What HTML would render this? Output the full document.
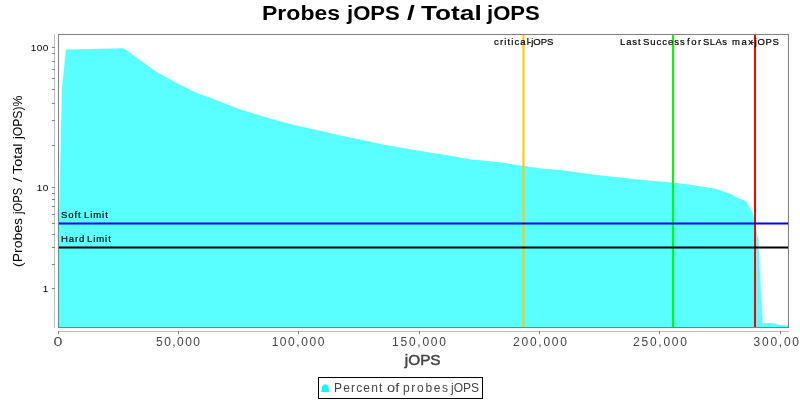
<!DOCTYPE html>
<html><head><meta charset="utf-8"><title>Probes jOPS / Total jOPS</title><style>
html,body{margin:0;padding:0;background:#fff;width:800px;height:400px;overflow:hidden}
svg{display:block;will-change:transform}
text{font-family:"Liberation Sans",sans-serif}
.b9{stroke:#000;stroke-width:0.2px}
</style></head><body>
<svg width="800" height="400" viewBox="0 0 800 400">
<rect x="0" y="0" width="800" height="400" fill="#fff"/>
<text x="262" y="20" font-size="20" font-weight="bold" fill="#000" textLength="78.08" lengthAdjust="spacingAndGlyphs">Probes</text>
<text x="347" y="20" font-size="20" font-weight="bold" fill="#000" textLength="52.89" lengthAdjust="spacingAndGlyphs">jOPS</text>
<text x="407" y="20" font-size="20" font-weight="bold" fill="#000" textLength="7.78" lengthAdjust="spacingAndGlyphs">/</text>
<text x="421" y="20" font-size="20" font-weight="bold" fill="#000" textLength="60.7" lengthAdjust="spacingAndGlyphs">Total</text>
<text x="487" y="20" font-size="20" font-weight="bold" fill="#000" textLength="52.89" lengthAdjust="spacingAndGlyphs">jOPS</text>

<polygon points="58,327.5 58,262 62,88 66,49.5 124,48.2 140,60 156,71.6 175,82 197,93 210,97.5 238.5,108.7 255,114 273,119.2 295.5,125.2 319.4,130.5 347.5,137 362.5,140 382,144.2 409,149 430,152.4 445,154.7 470,159.2 500,162.2 522.5,165.7 542,168.5 560,170 574.5,172 597,175 618,177.2 640.5,179.8 672,182.5 689,184.4 701,186.4 715,188.4 731,194 739,198.6 746,201 753.1,213.5 758.3,240 762.6,323.3 773,323 780,325 788,325.5 788,327.5" fill="#59ffff"/>
<rect x="522.5" y="34" width="2" height="293" fill="#ffc800"/>
<rect x="672" y="34" width="2" height="293" fill="#00ff00"/>
<rect x="754" y="34" width="2" height="293" fill="#ff0000"/>
<rect x="58" y="222.5" width="730" height="2" fill="#0000ff"/>
<rect x="58" y="246.5" width="730" height="2" fill="#000000"/>
<g class="b9"><text x="494" y="45" font-size="9.5" fill="#000" textLength="34.91" lengthAdjust="spacing">critical</text>
<text x="528" y="45" font-size="9.5" fill="#000" textLength="25.34" lengthAdjust="spacing">-jOPS</text>
<text x="620" y="45" font-size="9.5" fill="#000" textLength="20.64" lengthAdjust="spacing">Last</text>
<text x="643" y="45" font-size="9.5" fill="#000" textLength="41.74" lengthAdjust="spacing">Success</text>
<text x="687" y="45" font-size="9.5" fill="#000" textLength="14.09" lengthAdjust="spacing">for</text>
<text x="703" y="45" font-size="9.5" fill="#000" textLength="24.05" lengthAdjust="spacing">SLAs</text>
<text x="732" y="45" font-size="9.5" fill="#000" textLength="20.95" lengthAdjust="spacing">max</text>
<text x="751" y="45" font-size="9.5" fill="#000" textLength="27.84" lengthAdjust="spacing">-jOPS</text>
<text x="61" y="217.6" font-size="9.5" fill="#000" textLength="19.58" lengthAdjust="spacing">Soft</text>
<text x="84" y="217.6" font-size="9.5" fill="#000" textLength="23.81" lengthAdjust="spacing">Limit</text>
<text x="61" y="241.6" font-size="9.5" fill="#000" textLength="23.26" lengthAdjust="spacing">Hard</text>
<text x="87" y="241.6" font-size="9.5" fill="#000" textLength="23.81" lengthAdjust="spacing">Limit</text>
</g>
<g shape-rendering="crispEdges">
<rect x="58.5" y="34.5" width="730" height="293" fill="none" stroke="#808080" stroke-width="1"/>
<rect x="54" y="34" width="1" height="294" fill="#c0c0c0"/>
<rect x="58" y="331" width="731" height="1" fill="#c0c0c0"/>
<g fill="#808080"><rect x="52" y="47" width="3" height="1"/><rect x="52" y="53" width="3" height="1"/><rect x="52" y="61" width="3" height="1"/><rect x="52" y="69" width="3" height="1"/><rect x="52" y="78" width="3" height="1"/><rect x="52" y="89" width="3" height="1"/><rect x="52" y="103" width="3" height="1"/><rect x="52" y="120" width="3" height="1"/><rect x="52" y="145" width="3" height="1"/><rect x="52" y="187" width="3" height="1"/><rect x="52" y="193" width="3" height="1"/><rect x="52" y="199" width="3" height="1"/><rect x="52" y="206" width="3" height="1"/><rect x="52" y="214" width="3" height="1"/><rect x="52" y="223" width="3" height="1"/><rect x="52" y="234" width="3" height="1"/><rect x="52" y="247" width="3" height="1"/><rect x="52" y="264" width="3" height="1"/><rect x="52" y="288" width="3" height="1"/><rect x="58" y="331" width="1" height="3"/><rect x="178" y="331" width="1" height="3"/><rect x="298" y="331" width="1" height="3"/><rect x="419" y="331" width="1" height="3"/><rect x="539" y="331" width="1" height="3"/><rect x="659" y="331" width="1" height="3"/><rect x="780" y="331" width="1" height="3"/></g>
</g>
<g fill="#000" text-anchor="middle" font-size="10">
<g transform="translate(0,50.9) scale(1,0.93)"><text x="33.5" y="0" font-family="Liberation Mono">1</text><text x="39.5" y="0" textLength="5.6" lengthAdjust="spacingAndGlyphs">0</text><text x="45.5" y="0" textLength="5.6" lengthAdjust="spacingAndGlyphs">0</text></g>
<g transform="translate(0,190.9) scale(1,0.93)"><text x="39.5" y="0" font-family="Liberation Mono">1</text><text x="45.5" y="0" textLength="5.6" lengthAdjust="spacingAndGlyphs">0</text></g>
<g transform="translate(0,291.9) scale(1,0.93)"><text x="45.5" y="0" font-family="Liberation Mono">1</text></g>
</g>
<text x="58" y="346" text-anchor="middle" font-size="12" fill="#444" textLength="8.92" lengthAdjust="spacingAndGlyphs">0</text>
<text x="178" y="346" text-anchor="middle" font-size="12" fill="#444" textLength="43.9" lengthAdjust="spacing">50,000</text>
<text x="298" y="346" text-anchor="middle" font-size="12" fill="#444" textLength="52.73" lengthAdjust="spacing">100,000</text>
<text x="419" y="346" text-anchor="middle" font-size="12" fill="#444" textLength="53.89" lengthAdjust="spacing">150,000</text>
<text x="540" y="346" text-anchor="middle" font-size="12" fill="#444" textLength="53.89" lengthAdjust="spacing">200,000</text>
<text x="660" y="346" text-anchor="middle" font-size="12" fill="#444" textLength="53.89" lengthAdjust="spacing">250,000</text>
<text x="780.5" y="346" text-anchor="middle" font-size="12" fill="#444" textLength="53.89" lengthAdjust="spacing">300,000</text>
<g style="stroke:#444;stroke-width:0.45px"><text x="422.7" y="364.75" text-anchor="middle" font-size="14.5" fill="#444" textLength="35.83" lengthAdjust="spacingAndGlyphs">jOPS</text>
</g>
<text transform="translate(21.5,267) rotate(-90)" font-size="12.5" fill="#000" textLength="48.99" lengthAdjust="spacingAndGlyphs">(Probes</text>
<text transform="translate(21.5,214) rotate(-90)" font-size="12.5" fill="#000" textLength="26.17" lengthAdjust="spacingAndGlyphs">jOPS</text>
<text transform="translate(21.5,182) rotate(-90)" font-size="12.5" fill="#000" textLength="4.64" lengthAdjust="spacingAndGlyphs">/</text>
<text transform="translate(21.5,174) rotate(-90)" font-size="12.5" fill="#000" textLength="30.47" lengthAdjust="spacingAndGlyphs">Total</text>
<text transform="translate(21.5,139) rotate(-90)" font-size="12.5" fill="#000" textLength="43.44" lengthAdjust="spacingAndGlyphs">jOPS)%</text>

<rect x="318.5" y="377.5" width="164" height="21" fill="#fff" stroke="#000" stroke-width="1"/>
<path d="M325.3,384 L328.3,386 L329.3,392 L321.3,392 L322.3,386 Z" fill="#00ffff"/>
<text x="334" y="391.7" font-size="12" fill="#444" textLength="48.36" lengthAdjust="spacing">Percent</text>
<text x="387" y="391.7" font-size="12" fill="#444" textLength="12.25" lengthAdjust="spacingAndGlyphs">of</text>
<text x="403" y="391.7" font-size="12" fill="#444" textLength="45.1" lengthAdjust="spacing">probes</text>
<text x="451" y="391.7" font-size="12" fill="#444" textLength="28.02" lengthAdjust="spacing">jOPS</text>

</svg>
</body></html>
